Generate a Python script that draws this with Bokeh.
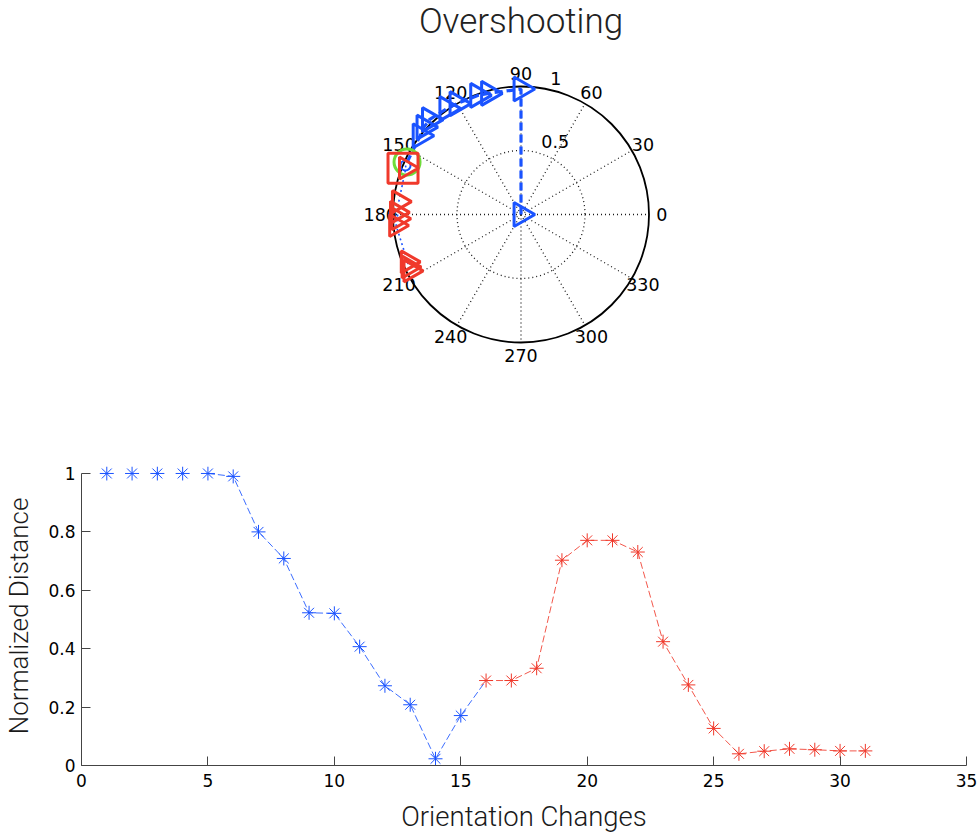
import numpy as np
from bokeh.plotting import figure
from bokeh.layouts import column
from bokeh.models import Range1d, FixedTicker
from bokeh.core.properties import value
from bokeh.embed import file_html
from bokeh.resources import INLINE

# ---------------- trajectory in polar form (degrees, normalized radius) ----------------
path_theta = [0, 90, 105, 110, 120, 125, 134, 138, 142]
path_rho = [0.0, 0.98, 0.98, 0.99, 1.0, 1.01, 1.03, 1.02, 1.0]

reached_theta = [157.0]
reached_rho = [0.98]

goal_theta = [155.3]
goal_rho = [0.98]

start_theta = [158.6]
start_rho = [0.99]

over_theta = [158, 174, 179, 182, 185, 202.7, 205, 207]
over_rho = [0.97, 0.96, 0.97, 0.96, 0.98, 0.96, 0.97, 0.97]

angle_ticks = [0, 30, 60, 90, 120, 150, 180, 210, 240, 270, 300, 330]
radial_ticks = [0.5, 1.0]

# ---------------- distance per orientation change ----------------
steps = list(range(1, 32))
distance = [1.0, 1.0, 1.0, 1.0, 1.0, 0.99, 0.80, 0.709, 0.523, 0.521,
            0.407, 0.273, 0.208, 0.023, 0.171, 0.291, 0.291, 0.333, 0.703, 0.771,
            0.771, 0.731, 0.424, 0.276, 0.127, 0.040, 0.049, 0.057, 0.054, 0.050,
            0.050]
x_ticks = [0, 5, 10, 15, 20, 25, 30, 35]
y_ticks = [0, 0.2, 0.4, 0.6, 0.8, 1.0]
y_tick_labels = ["0", "0.2", "0.4", "0.6", "0.8", "1"]

BLUE = "#1a53ff"
RED = "#f0392b"
GREEN = "#6fdc3a"
LIGHT_FONT = "Roboto Light"
TICK_FONT = "DejaVu Sans"

# shared horizontal borders (the column lines up both plot frames)
LEFT, RIGHT, WIDTH = 81, 14, 980


def to_xy(theta_deg, rho):
    t = np.radians(np.asarray(theta_deg, dtype=float))
    r = np.asarray(rho, dtype=float)
    return r * np.cos(t), r * np.sin(t)


# ---------------- polar panel ----------------
PX = 128.0          # pixels per unit radius
CX, CY = 520.5, 214.0
PH = 390

p = figure(width=WIDTH, height=PH, output_backend="svg", toolbar_location=None,
           x_range=Range1d((LEFT - CX) / PX, (WIDTH - RIGHT - CX) / PX),
           y_range=Range1d((CY - PH) / PX, CY / PX),
           x_axis_location=None, y_axis_location=None,
           min_border_left=LEFT, min_border_right=RIGHT,
           min_border_top=0, min_border_bottom=0)
p.grid.visible = False
p.outline_line_color = None

# dotted spokes and inner ring
sx, sy = to_xy(angle_ticks, [1.0] * len(angle_ticks))
p.segment(x0=0, y0=0, x1=sx, y1=sy, line_color="#1a1a1a", line_width=1.3,
          line_dash="1 3")
p.circle(x=[0], y=[0], radius=[radial_ticks[0]], fill_color=None,
         line_color="#1a1a1a", line_width=1.3, line_dash="1 3")
# outer ring
p.circle(x=[0], y=[0], radius=[radial_ticks[-1]], fill_color=None,
         line_color="black", line_width=1.8)

# angle labels
lx, ly = to_xy(angle_ticks, [1.1] * len(angle_ticks))
p.text(x=lx, y=ly, text=[str(a) for a in angle_ticks],
       text_font=value(TICK_FONT), text_font_size="17.5px", text_color="black",
       text_align="center", text_baseline="middle")

# radius labels
rx, ry = to_xy([82] * len(radial_ticks), [r + 0.025 for r in radial_ticks])
p.text(x=rx, y=ry, text=[f"{r:g}" for r in radial_ticks], x_offset=11,
       text_font=value(TICK_FONT), text_font_size="17.5px", text_color="black",
       text_align="left", text_baseline="bottom")

# title
p.text(x=[0], y=[(CY - 21) / PX], text=["Overshooting"],
       text_font=value(LIGHT_FONT), text_font_size="35px", text_color="#222222",
       text_align="center", text_baseline="middle")

# planned path (dashed) and the overshoot trace
bx, by = to_xy(path_theta + reached_theta, path_rho + reached_rho)
p.line(bx, by, line_color=BLUE, line_width=3.2, line_dash="8 4")
ox, oy = to_xy(reached_theta + over_theta, reached_rho + over_rho)
p.line(ox, oy, line_color=BLUE, line_width=1.6, line_dash="2 3")

tx, ty = to_xy(path_theta, path_rho)
p.scatter(tx, ty, marker="triangle", angle=-np.pi / 2, size=24,
          fill_color=None, line_color=BLUE, line_width=3)
cx_, cy_ = to_xy(reached_theta, reached_rho)
p.scatter(cx_, cy_, marker="circle", size=10, fill_color=None,
          line_color=BLUE, line_width=2)
gx, gy = to_xy(goal_theta, goal_rho)
p.scatter(gx, gy, marker="circle", size=26, fill_color=None,
          line_color=GREEN, line_width=3)
qx, qy = to_xy(start_theta, start_rho)
p.scatter(qx, qy, marker="square", size=30, fill_color=None,
          line_color=RED, line_width=3)
rx2, ry2 = to_xy(over_theta, over_rho)
p.scatter(rx2, ry2, marker="triangle", angle=-np.pi / 2, size=22,
          fill_color=None, line_color=RED, line_width=3)

# ---------------- distance panel ----------------
FRAME_H = 300
Y_TOP = FRAME_H / 293.0   # a little headroom so markers at 1 are not clipped
q = figure(width=WIDTH, height=445, output_backend="svg", toolbar_location=None,
           x_range=Range1d(0, 35), y_range=Range1d(0, Y_TOP),
           min_border_left=LEFT, min_border_right=RIGHT,
           min_border_top=445 - 69 - FRAME_H, min_border_bottom=69)
q.grid.visible = False
q.outline_line_color = None

q.xaxis.ticker = FixedTicker(ticks=x_ticks)
q.yaxis.ticker = FixedTicker(ticks=y_ticks)
q.yaxis.major_label_overrides = dict(zip(y_ticks, y_tick_labels))
q.xaxis.bounds = (x_ticks[0], x_ticks[-1])
q.yaxis.bounds = (y_ticks[0], y_ticks[-1])
for ax in (q.xaxis, q.yaxis):
    ax.major_tick_in = 9
    ax.major_tick_out = 0
    ax.minor_tick_line_color = None
    ax.axis_line_color = "#444444"
    ax.major_tick_line_color = "#444444"
    ax.major_label_text_font = TICK_FONT
    ax.major_label_text_font_size = "17px"
    ax.major_label_text_color = "black"
    ax.axis_label_text_font = LIGHT_FONT
    ax.axis_label_text_font_style = "normal"
    ax.axis_label_text_color = "#1a1a1a"
q.xaxis.axis_label_text_font_size = "27.5px"
q.yaxis.axis_label_text_font_size = "26px"
q.xaxis.axis_label = "Orientation Changes"
q.yaxis.axis_label = "Normalized Distance"
q.xaxis.major_label_standoff = 8
q.yaxis.major_label_standoff = 6
q.xaxis.axis_label_standoff = 10
q.yaxis.axis_label_standoff = 11

split = 15  # step 16 starts the overshoot
q.line(steps[4:split + 1], distance[4:split + 1], line_color=BLUE, line_width=1,
       line_dash="7 3", line_alpha=0.85)
q.scatter(steps[:split], distance[:split], marker="asterisk", size=14,
          line_color=BLUE, line_width=1)
q.line(steps[split:], distance[split:], line_color=RED, line_width=1,
       line_dash="7 3", line_alpha=0.85)
q.scatter(steps[split:], distance[split:], marker="asterisk", size=14,
          line_color=RED, line_width=1)

layout = column(p, q, spacing=0)
open("out.html", "w").write(file_html(layout, INLINE, title="Overshooting"))
